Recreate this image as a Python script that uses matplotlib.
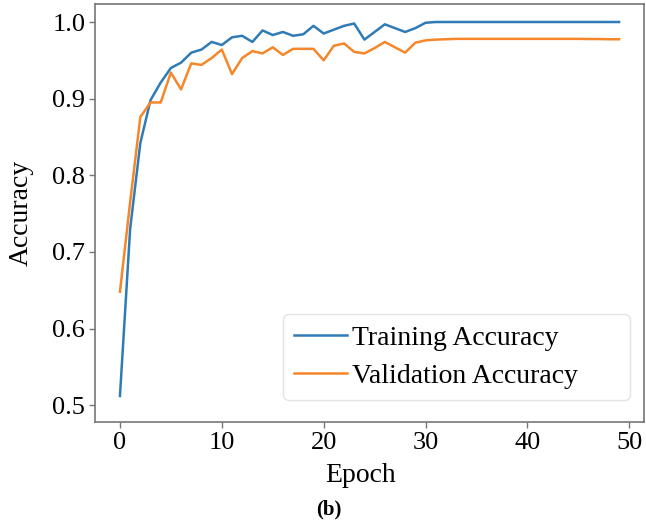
import matplotlib
matplotlib.use("Agg")
import matplotlib.pyplot as plt

# accuracy per epoch
epochs = list(range(50))
train_acc = [0.512, 0.730, 0.842, 0.898, 0.921, 0.940, 0.947, 0.960, 0.964, 0.974,
             0.970, 0.980, 0.982, 0.974, 0.989, 0.983, 0.987, 0.982, 0.984, 0.995,
             0.985, 0.990, 0.995, 0.998, 0.977, 0.987, 0.997, 0.992, 0.987, 0.992,
             0.999, 1.000, 1.000, 1.000, 1.000, 1.000, 1.000, 1.000, 1.000, 1.000,
             1.000, 1.000, 1.000, 1.000, 1.000, 1.000, 1.000, 1.000, 1.000, 1.000]
val_acc = [0.648, 0.765, 0.876, 0.895, 0.895, 0.934, 0.912, 0.946, 0.944, 0.953,
           0.964, 0.932, 0.953, 0.962, 0.959, 0.967, 0.957, 0.965, 0.965, 0.965,
           0.950, 0.969, 0.972, 0.961, 0.959, 0.966, 0.974, 0.967, 0.960, 0.973,
           0.976, 0.977, 0.9775, 0.978, 0.978, 0.978, 0.978, 0.978, 0.978, 0.978,
           0.978, 0.978, 0.978, 0.978, 0.978, 0.978, 0.9778, 0.9778, 0.9775, 0.9775]

plt.rcParams['font.family'] = ['Liberation Serif', 'DejaVu Serif']
plt.rcParams['font.size'] = 19

fig = plt.figure(figsize=(6.46, 5.27), dpi=100)
ax = fig.add_axes([95 / 646, 105 / 527, 549 / 646, 418 / 527])

ax.plot(epochs, train_acc, color='#2f7bb6', lw=1.8, label='Training Accuracy')
ax.plot(epochs, val_acc, color='#f5872a', lw=1.8, label='Validation Accuracy')

ax.set_ylim(0.478, 1.0235)
ax.set_xticks([0, 10, 20, 30, 40, 50])
ax.set_yticks([0.5, 0.6, 0.7, 0.8, 0.9, 1.0])
ax.set_xlabel('Epoch', fontsize=20, labelpad=7, x=0.4845)
ax.set_ylabel('Accuracy', fontsize=20, labelpad=13)

for s in ax.spines.values():
    s.set_color('#777777')
    s.set_linewidth(1.2)
ax.tick_params(colors='#777777', labelcolor='black', length=4, width=1.0, pad=3)

# legend box is wider than its text in the reference
leg = ax.legend(loc='lower left', mode='expand', bbox_to_anchor=(0.3424, 0.0526, 0.632, 0.2),
                borderaxespad=0, fontsize=20, handlelength=1.9, handletextpad=0.18,
                labelspacing=0.45, borderpad=0.4, fancybox=True)
leg.get_frame().set_edgecolor('#dddddd')

fig.text(329 / 646, 18 / 527, '(b)', ha='center', va='center', fontsize=15, fontweight='bold')

fig.savefig('out.png', dpi=100)
